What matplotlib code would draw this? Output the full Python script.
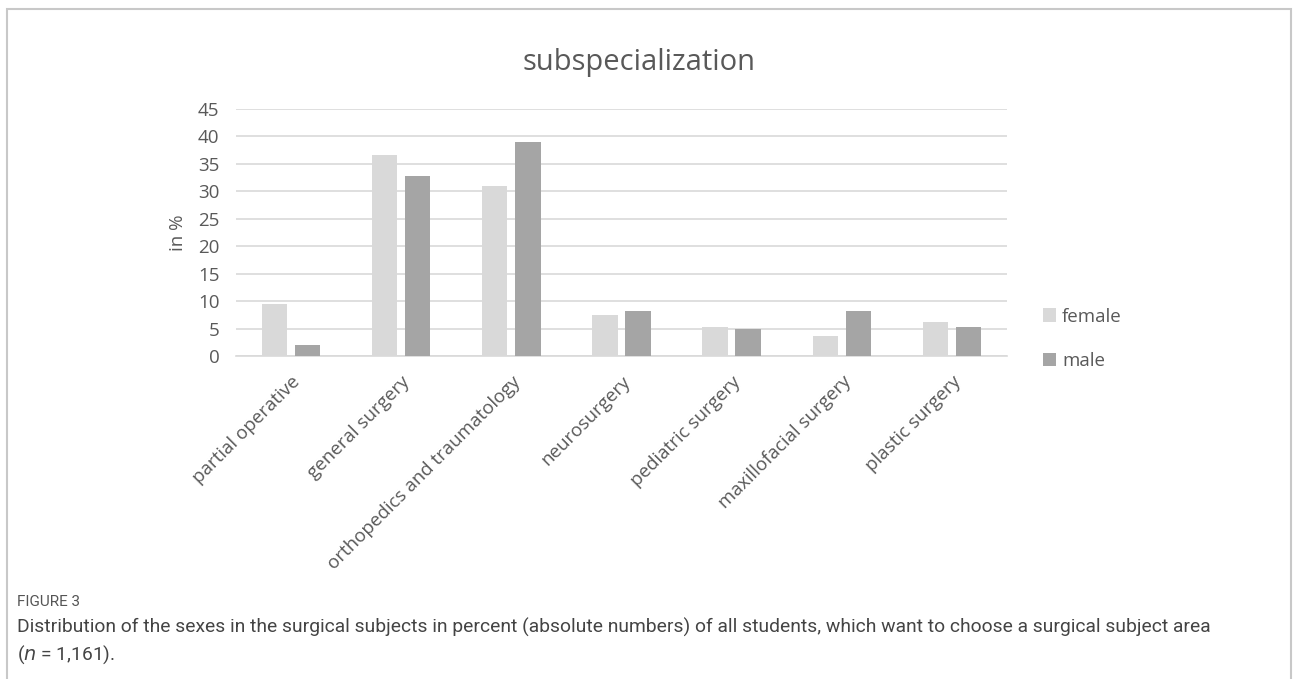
import matplotlib.pyplot as plt
import numpy as np
from matplotlib.patches import Rectangle

# data
categories = ["partial operative", "general surgery", "orthopedics and traumatology",
              "neurosurgery", "pediatric surgery", "maxillofacial surgery", "plastic surgery"]
female = [9.4, 36.6, 31.0, 7.5, 5.2, 3.6, 6.2]
male = [2.0, 32.7, 38.9, 8.2, 4.9, 8.2, 5.2]
yticks = list(range(0, 50, 5))

text_col = "#595959"
plt.rcParams['font.family'] = ['Open Sans', 'DejaVu Sans']

fig = plt.figure(figsize=(12.93, 6.79), dpi=100)
ax = fig.add_axes([0.1825, 0.4757, 0.5963, 0.3638])

x = np.arange(len(categories))
w = 0.23
ax.bar(x - 0.15, female, width=w, color="#d9d9d9", label="female", zorder=3)
ax.bar(x + 0.15, male, width=w, color="#a5a5a5", label="male", zorder=3)

ax.set_xlim(-0.5, len(categories) - 0.5)
ax.set_ylim(0, 45)
ax.set_yticks(yticks)
ax.yaxis.grid(True, color="#d9d9d9", linewidth=1.2, zorder=0)
ax.set_axisbelow(True)
for s in ["top", "right", "left"]:
    ax.spines[s].set_visible(False)
ax.spines["bottom"].set_color("#d9d9d9")
ax.spines["bottom"].set_linewidth(1.2)
ax.tick_params(axis="both", length=0, colors=text_col, labelsize=13.5)
ax.tick_params(axis="y", pad=12)
ax.set_xticks(x)
ax.set_xticklabels(categories, rotation=45, ha="right", rotation_mode="anchor")
ax.tick_params(axis="x", pad=12)
ax.set_ylabel("in %", color=text_col, fontsize=13.5, labelpad=8)
ax.set_title("subspecialization", color=text_col, fontsize=21, pad=28, x=0.523)

ax.legend(loc="center left", bbox_to_anchor=(1.025, 0.07), frameon=False,
          fontsize=13.5, labelcolor=text_col, handlelength=0.7, handleheight=0.7,
          handletextpad=0.3, labelspacing=1.4)

# frame around figure
fig.patches.append(Rectangle((7 / 1293, -0.01), 1284 / 1293, 1 - 9 / 679 + 0.01,
                             transform=fig.transFigure, fill=False,
                             edgecolor="#c8c8c8", linewidth=1.5))

fig.text(17 / 1293, 1 - 602 / 679, "FIGURE 3", fontsize=11, color="#555555",
         va="center", family=["Roboto", "DejaVu Sans"])
fig.text(17 / 1293, 1 - 627 / 679,
         "Distribution of the sexes in the surgical subjects in percent (absolute numbers) "
         "of all students, which want to choose a surgical subject area",
         fontsize=13.9, color="#444444", va="center", family=["Roboto", "DejaVu Sans"])
fig.text(17 / 1293, 1 - 655 / 679, "($\\it{n}$ = 1,161).", fontsize=13.9,
         color="#444444", va="center", family=["Roboto", "DejaVu Sans"])

fig.savefig("out.png", dpi=100)
